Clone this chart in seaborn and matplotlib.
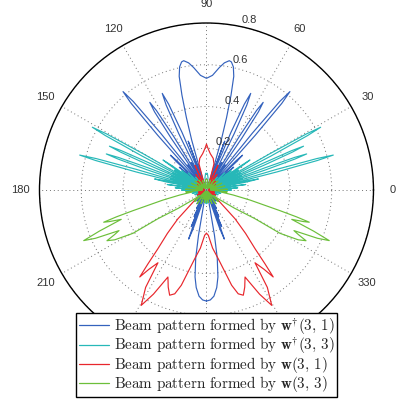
import numpy as np
import pandas as pd
import seaborn as sns
import matplotlib.pyplot as plt
from matplotlib.lines import Line2D

# Right half of each beam pattern (degrees from -90 to 90).
# The patterns are symmetric about the 90-270 axis, the left half is the mirror.
blue_deg = [-90, -88, -86, -84, -82.5, -81, -80, -78.5,
            -76, -72.5, -71, -70, -69.2, -68.5, -67.5, -66, -65, -63.5, -62, -60,
            -55, -52, -48, -45, -40, -35, -28, -20, -12, -5, 0, 5, 10, 14,
            20, 23, 27, 30, 33, 36, 40, 42, 43.3, 44, 44.7, 46,
            47.2, 48.3, 49, 49.7, 50.4, 51.1, 52.2, 53.5, 54.8,
            55.7, 56.4, 57.1, 57.8, 58.5, 59.6, 61, 62.6,
            63.8, 64.6, 65.4, 66.2, 67, 68, 69.5, 71,
            72.5, 73.5, 74.5, 75.5, 76.5, 77.7, 79, 80, 82, 84, 87, 90]
blue_amp = [0.532, 0.527, 0.51, 0.47, 0.42, 0.33, 0.22, 0.05,
            0.03, 0.06, 0.20, 0.25, 0.15, 0.06, 0.19, 0.05, 0.14, 0.04, 0.10, 0.03,
            0.08, 0.02, 0.07, 0.02, 0.05, 0.02, 0.04, 0.015, 0.035, 0.01, 0.03, 0.01, 0.04, 0.01,
            0.06, 0.01, 0.08, 0.01, 0.12, 0.01, 0.17, 0.01, 0.20, 0.24, 0.20, 0.02,
            0.03, 0.35, 0.55, 0.618, 0.55, 0.35, 0.03, 0.15, 0.03,
            0.30, 0.45, 0.50, 0.45, 0.30, 0.03, 0.15, 0.03,
            0.30, 0.45, 0.509, 0.45, 0.30, 0.03, 0.25, 0.03,
            0.12, 0.25, 0.36, 0.47, 0.56, 0.604, 0.625, 0.629, 0.615, 0.59, 0.55, 0.535]

cyan_deg = [-90, -86, -82, -75, -70, -60, -55, -45, -40, -33, -28, -22, -18, -13, -10, -6, -3,
            0, 2, 4, 6, 8, 10, 11.3, 12, 12.7, 13.6,
            14.4, 14.9, 15.4, 15.9, 16.4, 17, 17.6, 18.2,
            18.8, 19.3, 19.8, 20.3, 20.8, 21.4, 22, 22.6,
            23.3, 23.8, 24.3, 24.8, 25.3, 25.9, 26.5, 27.1,
            27.8, 28.3, 28.8, 29.3, 29.8, 30.5, 32, 33.3, 34, 34.6, 35.2, 36,
            38, 40, 43, 46, 50, 54, 60, 66, 72, 78, 83, 87, 90]
cyan_amp = [0.065, 0.063, 0.01, 0.03, 0.01, 0.035, 0.01, 0.04, 0.01, 0.05, 0.01, 0.06, 0.01,
            0.07, 0.01, 0.09, 0.01, 0.12, 0.01, 0.15, 0.01, 0.19, 0.01, 0.20, 0.254, 0.20, 0.01,
            0.35, 0.55, 0.63, 0.55, 0.35, 0.02, 0.18, 0.02,
            0.30, 0.45, 0.51, 0.45, 0.30, 0.02, 0.18, 0.02,
            0.30, 0.45, 0.51, 0.45, 0.30, 0.02, 0.18, 0.02,
            0.35, 0.55, 0.624, 0.55, 0.35, 0.02, 0.18, 0.02, 0.20, 0.253, 0.20, 0.02,
            0.15, 0.01, 0.12, 0.01, 0.08, 0.01, 0.06, 0.01, 0.04, 0.01, 0.06, 0.08, 0.08]

red_deg = [-90, -87.7, -84, -80.3, -77.3, -75.2, -73, -70.7, -68.5, -66.1, -63, -60.5, -58,
           -56.3, -54, -52.5, -51.6, -50.4, -48, -45.2, -41.1, -35, -28, -22, -15, -8, 0, 8,
           15, 22, 30, 38, 45, 50, 56, 60, 65, 69, 72, 74, 78, 84, 88, 90]
red_amp = [0.207, 0.217, 0.28, 0.334, 0.403, 0.472, 0.52, 0.534, 0.50, 0.456, 0.56, 0.635, 0.55,
           0.419, 0.47, 0.525, 0.451, 0.365, 0.28, 0.194, 0.075, 0.02, 0.05, 0.01, 0.04, 0.01,
           0.03, 0.01, 0.04, 0.01, 0.05, 0.01, 0.06, 0.02, 0.09, 0.02, 0.13, 0.02, 0.06, 0.13,
           0.155, 0.175, 0.2, 0.22]

green_deg = [-90, -86, -80, -74, -68, -62, -56, -50, -44, -40, -36, -33, -30.6, -30.5, -28.5,
             -27, -25.9, -24.9, -23.5, -22.4, -21, -19, -18, -17.4, -16.6, -15.7, -13, -10.6,
             -8, -5, -2, 2, 6, 12, 18, 24, 30, 38, 45, 52, 60, 68, 76, 84, 90]
green_amp = [0.06, 0.01, 0.06, 0.01, 0.07, 0.01, 0.08, 0.01, 0.08, 0.04, 0.08, 0.16, 0.27,
             0.409, 0.50, 0.535, 0.49, 0.462, 0.58, 0.636, 0.55, 0.432, 0.49, 0.516, 0.45, 0.366,
             0.214, 0.13, 0.07, 0.1, 0.02, 0.1, 0.02, 0.09, 0.02, 0.08, 0.02, 0.07, 0.01, 0.06,
             0.01, 0.05, 0.01, 0.05, 0.05]

series_labels = [r'$\mathrm{Beam\ pattern\ formed\ by\ }\mathbf{w}^{\dagger}(3,\,1)$',
                 r'$\mathrm{Beam\ pattern\ formed\ by\ }\mathbf{w}^{\dagger}(3,\,3)$',
                 r'$\mathrm{Beam\ pattern\ formed\ by\ }\mathbf{w}(3,\,1)$',
                 r'$\mathrm{Beam\ pattern\ formed\ by\ }\mathbf{w}(3,\,3)$']
series_colors = ['#3462bd', '#27b8b8', '#e8262c', '#6cbf3a']

angle_ticks = list(range(0, 360, 30))
angle_labels = [str(a) for a in angle_ticks]
r_ticks = [0.2, 0.4, 0.6, 0.8]
r_labels = ['0.2', '0.4', '0.6', '0.8']


def full_pattern(deg, amp):
    deg = np.asarray(deg, float)
    amp = np.asarray(amp, float)
    left_deg = 180 - deg[::-1][1:]
    left_amp = amp[::-1][1:]
    return np.radians(np.concatenate([deg, left_deg])), np.concatenate([amp, left_amp])


frames = []
for lab, d, a in zip(series_labels,
                     [blue_deg, cyan_deg, red_deg, green_deg],
                     [blue_amp, cyan_amp, red_amp, green_amp]):
    th, r = full_pattern(d, a)
    frames.append(pd.DataFrame({'theta': th, 'r': r, 'series': lab}))
df = pd.concat(frames, ignore_index=True)

sns.set_style('white')
plt.rcParams['font.family'] = ['Liberation Sans', 'DejaVu Sans']
plt.rcParams['mathtext.fontset'] = 'cm'

fig = plt.figure(figsize=(3.98, 4.05), dpi=100)
ax = fig.add_axes([0.0992, 0.1185, 0.8392, 0.8247], projection='polar')

sns.lineplot(data=df, x='theta', y='r', hue='series', palette=series_colors,
             hue_order=series_labels, sort=False, estimator=None, ax=ax,
             legend=False, linewidth=0.85)

ax.set_ylim(0, 0.8)
ax.set_yticks(r_ticks)
ax.set_yticklabels([])
ax.set_thetagrids(angle_ticks, angle_labels)
ax.tick_params(axis='x', pad=3, labelsize=8, labelcolor='#333333')
ax.grid(True, linestyle=(0, (1, 3)), color='0.45', linewidth=0.7)
ax.spines['polar'].set_color('black')
ax.spines['polar'].set_linewidth(1.0)
ax.set_xlabel('')
ax.set_ylabel('')

for rv, rl in zip(r_ticks, r_labels):
    ax.text(np.radians(78), rv + 0.01, rl, ha='left', va='bottom', fontsize=8,
            color='#333333', clip_on=False)

handles = [Line2D([], [], color=c, lw=0.9) for c in series_colors]
fig.legend(handles, series_labels, loc='lower left', bbox_to_anchor=(0.191, 0.0198),
           borderaxespad=0, frameon=True, fancybox=False, edgecolor='black', framealpha=1,
           fontsize=10.9, handlelength=2.0, labelspacing=-0.08, borderpad=0.2,
           handletextpad=0.3)

fig.savefig('out.png', dpi=100)
